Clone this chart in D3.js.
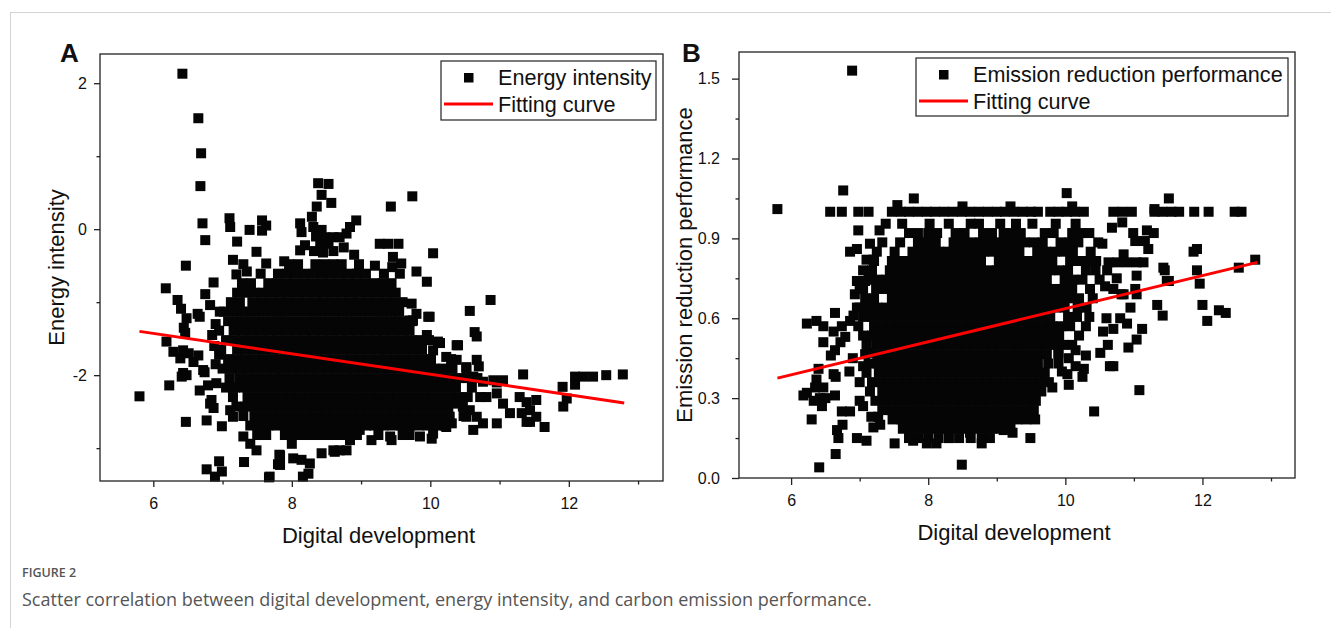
<!DOCTYPE html>
<html>
<head>
<meta charset="utf-8">
<script src="https://cdn.jsdelivr.net/npm/d3@7"></script>
<style>
  body { margin: 0; background: #fff; }
</style>
</head>
<body>
<script>
// axis ticks
const xMajor = [6, 8, 10, 12];
const xMinor = [7, 9, 11, 13];
const energyMajor = [-2, 0, 2];
const energyMinor = [-3, -1, 1];
const emissionMajor = [0, 0.3, 0.6, 0.9, 1.2, 1.5];
const emissionMinor = [0.15, 0.45, 0.75, 1.05, 1.35];

// fitted lines (endpoints)
const energyFit = [[5.8, -1.40], [12.8, -2.38]];
const emissionFit = [[5.8, 0.375], [12.8, 0.81]];

// panel A: scattered points [digital, energy]
const energyPoints = [
  [6.42,2.13],[6.65,1.52],[6.69,1.04],[6.68,0.59],[6.71,0.08],[6.75,-0.15],[6.47,-0.50],
  [7.10,0.15],[7.11,0.03],[7.21,-0.17],[7.39,-0.01],[7.57,0.12],[7.63,0.05],[7.57,-0.02],[7.49,-0.31],
  [7.89,-0.44],[8.12,0.08],[8.14,-0.04],[8.12,-0.29],[8.19,-0.22],
  [8.38,0.63],[8.53,0.62],[8.43,0.47],[8.57,0.36],[8.36,0.31],[8.29,0.17],[8.31,0.03],[8.43,-0.01],
  [8.41,-0.20],[8.48,-0.11],[8.60,-0.11],[8.53,-0.20],[8.35,-0.10],[8.32,-0.30],[8.45,-0.32],[8.60,-0.30],
  [8.93,0.12],[8.84,0.03],[8.79,-0.06],[8.69,-0.11],[8.75,-0.25],[8.90,-0.35],
  [9.27,-0.20],[9.39,-0.20],[9.54,-0.20],[9.43,0.31],[9.74,0.45],[10.04,-0.33],[9.46,-0.38],[9.58,-0.47],
  [9.80,-0.58],[9.95,-0.72],[9.56,-0.61],[6.87,-0.73],[6.75,-0.89],[7.15,-0.42],[7.30,-0.48],[7.63,-0.47],
  [7.20,-0.62],[7.35,-0.58],[9.2,-0.5],[9.45,-0.52],
  [10.57,-1.12],[9.99,-1.20],[10.64,-1.41],[10.67,-1.47],[10.40,-1.59],[10.87,-0.97],[10.70,-1.88],
  [9.73,-1.02],[9.75,-1.25],[10.11,-1.54],[9.95,-1.45],[9.80,-1.16],[9.70,-1.25],[9.97,-1.20],
  [10.14,-1.56],[10.38,-1.59],[10.67,-1.79],[10.52,-1.89],[10.38,-1.79],[10.23,-1.75],[10.04,-1.66],
  [11.34,-1.99],[11.91,-2.16],[12.09,-2.02],[12.21,-2.02],[12.35,-2.02],[12.54,-2.00],[12.78,-1.99],
  [12.09,-2.13],[11.92,-2.43],[11.97,-2.32],[11.65,-2.71],[11.44,-2.64],[11.53,-2.57],[11.05,-2.07],[10.96,-2.10],
  [10.62,-2.02],[10.76,-2.09],[10.91,-2.07],[10.96,-2.25],[10.81,-2.30],[11.05,-2.39],[11.15,-2.52],
  [11.29,-2.30],[11.39,-2.37],[11.53,-2.34],[11.44,-2.48],[11.32,-2.52],[11.39,-2.64],
  [10.67,-2.57],[10.57,-2.48],[10.52,-2.57],[10.76,-2.66],[10.96,-2.66],[10.38,-2.39],[10.28,-2.57],
  [10.62,-2.75],[10.31,-2.66],[10.23,-2.71],[10.04,-2.80],[10.02,-2.87],[9.85,-2.84],[9.70,-2.82],
  [9.42,-2.84],[9.44,-2.89],[9.15,-2.89],[8.98,-2.75],[8.84,-2.89],[8.79,-3.03],[8.62,-3.05],[8.69,-3.03],
  [6.18,-0.81],[6.35,-0.97],[6.40,-1.09],[6.48,-1.22],[6.44,-1.35],[6.46,-1.42],[6.64,-1.16],[6.67,-1.20],
  [6.82,-1.04],[6.96,-1.13],[6.19,-1.54],[6.29,-1.68],[6.39,-1.77],[6.51,-1.70],[6.58,-1.82],[6.65,-1.73],
  [6.43,-1.66],[6.43,-1.97],[6.72,-1.93],[6.74,-1.96],[6.41,-2.02],[6.48,-2.00],[6.23,-2.14],[5.80,-2.29],
  [6.67,-2.21],[6.79,-2.14],[6.91,-2.11],[6.84,-2.34],[6.82,-2.39],[6.87,-2.45],[6.47,-2.64],[6.77,-2.62],
  [6.99,-2.70],[7.11,-2.48],[7.15,-2.57],[6.90,-1.30],[6.85,-1.45],[6.88,-1.60],[6.90,-1.85],[6.95,-1.72],
  [7.31,-3.19],[6.95,-3.18],[6.77,-3.29],[6.99,-3.32],[6.89,-3.39],[7.30,-2.84],[7.49,-3.03],[7.40,-2.94],
  [7.82,-3.09],[7.80,-3.22],[7.67,-3.40],[8.00,-2.94],[8.02,-3.14],[8.14,-3.16],[8.26,-3.21],[8.24,-3.35],
  [8.16,-3.39],[8.43,-3.07],[8.60,-3.03],[7.83,-3.10],[7.83,-3.23],[7.68,-3.39]
];

// panel A: dense core, one row per level [energy, digital...]
const energyRows = [
  [-0.48, 7.96,8.09,8.34,8.47,8.6,8.72,8.97],
  [-0.61, 7.55,7.8,7.93,8.05,8.18,8.31,8.44,8.56,8.69,8.82,8.94,9.07,9.33],
  [-0.74, 7.28,7.41,7.66,7.79,7.92,8.04,8.17,8.3,8.43,8.55,8.68,8.81,8.93,9.06,9.19,9.31,9.44],
  [-0.87, 7.21,7.34,7.46,7.59,7.72,7.85,7.97,8.1,8.23,8.36,8.48,8.61,8.74,8.87,8.99,9.12,9.25,9.38,9.5],
  [-1.00, 7.12,7.25,7.43,7.56,7.69,7.82,7.94,8.07,8.2,8.33,8.45,8.58,8.71,8.84,8.96,9.09,9.22,9.35,9.47,9.6],
  [-1.13, 7.02,7.15,7.28,7.4,7.53,7.66,7.79,7.91,8.04,8.17,8.3,8.42,8.55,8.68,8.81,8.93,9.06,9.19,9.32,9.44,9.55],
  [-1.26, 7.08,7.21,7.33,7.46,7.59,7.72,7.84,7.97,8.1,8.23,8.35,8.48,8.61,8.74,8.86,8.99,9.12,9.25,9.37,9.5,9.63,9.74],
  [-1.39, 6.95,7.16,7.28,7.41,7.54,7.67,7.79,7.92,8.05,8.18,8.3,8.43,8.56,8.69,8.81,8.94,9.07,9.2,9.32,9.45,9.58,9.7],
  [-1.52, 7.05,7.18,7.3,7.43,7.56,7.69,7.81,7.94,8.07,8.2,8.32,8.45,8.58,8.71,8.83,8.96,9.09,9.22,9.34,9.47,9.6,9.73,9.86,9.98],
  [-1.65, 6.98,7.21,7.33,7.46,7.59,7.72,7.84,7.97,8.1,8.23,8.35,8.48,8.61,8.74,8.86,8.99,9.12,9.25,9.37,9.5,9.63,9.76,9.88],
  [-1.78, 7.08,7.21,7.33,7.46,7.59,7.72,7.84,7.97,8.1,8.23,8.35,8.48,8.61,8.74,8.86,8.99,9.12,9.25,9.37,9.5,9.63,9.76,9.88,10.01,10.3],
  [-1.91, 7.0,7.13,7.26,7.38,7.51,7.64,7.77,7.89,8.02,8.15,8.28,8.4,8.53,8.66,8.79,8.91,9.04,9.17,9.3,9.42,9.55,9.68,9.81,9.93,10.06,10.19,10.32,10.52],
  [-2.04, 7.1,7.24,7.36,7.49,7.62,7.75,7.87,8.0,8.13,8.26,8.38,8.51,8.64,8.77,8.89,9.02,9.15,9.28,9.4,9.53,9.66,9.79,9.91,10.04,10.17,10.3,10.42,10.55,10.68],
  [-2.17, 7.05,7.18,7.31,7.43,7.56,7.69,7.82,7.94,8.07,8.2,8.33,8.45,8.58,8.71,8.84,8.96,9.09,9.22,9.35,9.47,9.6,9.73,9.86,9.98,10.11,10.24,10.37,10.6],
  [-2.30, 7.15,7.36,7.48,7.61,7.74,7.87,7.99,8.12,8.25,8.38,8.5,8.63,8.76,8.89,9.01,9.14,9.27,9.4,9.52,9.65,9.78,9.91,10.03,10.16,10.29,10.42,10.54,10.72],
  [-2.43, 7.2,7.33,7.46,7.58,7.71,7.84,7.97,8.09,8.22,8.35,8.48,8.6,8.73,8.86,8.99,9.11,9.24,9.37,9.5,9.62,9.75,9.88,10.01,10.13,10.26,10.47],
  [-2.56, 7.3,7.46,7.58,7.71,7.84,7.97,8.09,8.22,8.35,8.48,8.6,8.73,8.86,8.99,9.11,9.24,9.37,9.5,9.62,9.75,9.88,10.01,10.13,10.26,10.48],
  [-2.69, 7.4,7.54,7.66,7.79,7.92,8.05,8.17,8.3,8.43,8.56,8.68,8.81,8.94,9.07,9.19,9.32,9.45,9.58,9.7,9.83,9.96,10.09,10.21],
  [-2.82, 7.5,7.63,7.9,8.03,8.16,8.29,8.42,8.55,8.68,8.81,8.94,9.25,9.6]
];

// panel B: scattered points [digital, emission]
const emissionPoints = [
  [5.80,1.01],[6.89,1.53],[6.76,1.08],[7.79,1.05],[10.02,1.07],[11.51,1.05],[7.55,1.025],[8.5,1.02],
  [9.2,1.02],[10.1,1.02],[11.3,1.01],[6.98,0.93],[6.86,0.85],[6.96,0.86],[7.29,0.93],[7.20,0.82],
  [10.68,0.94],[10.83,0.96],[10.99,0.92],[11.19,0.93],[11.29,0.92],[11.02,0.89],[11.16,0.89],[11.21,0.86],
  [11.87,0.85],[11.92,0.86],[10.54,0.88],[10.85,0.84],[10.63,0.81],[10.76,0.81],[10.9,0.81],[11.04,0.81],
  [11.14,0.81],[11.45,0.78],[11.48,0.74],[11.92,0.78],[11.96,0.73],[12.53,0.79],[12.77,0.82],[11.43,0.79],
  [11.51,0.74],[10.61,0.78],[10.75,0.75],[11.04,0.76],[11.02,0.71],[10.58,0.72],[10.70,0.71],[10.85,0.69],
  [11.04,0.69],[10.82,0.69],[10.95,0.64],[11.34,0.65],[11.42,0.61],[12.00,0.65],[12.07,0.59],[12.24,0.63],
  [12.34,0.62],[10.8,0.60],[10.9,0.58],[10.6,0.60],[10.55,0.55],[10.7,0.56],[10.62,0.50],[11.12,0.56],
  [11.04,0.52],[10.92,0.49],[10.51,0.47],[10.65,0.42],[10.70,0.42],[11.08,0.33],[10.42,0.25],
  [10.05,0.35],[10.25,0.38],[10.27,0.41],[10.03,0.39],[9.81,0.34],[9.76,0.36],[9.9,0.43],
  [9.9,0.47],[10.05,0.45],[10.15,0.48],[10.3,0.46],[9.95,0.40],[10.15,0.42],
  [9.49,0.23],[9.56,0.22],[9.10,0.18],[9.23,0.17],[9.49,0.15],
  [6.23,0.58],[6.37,0.59],[6.47,0.57],[6.64,0.62],[6.47,0.51],[6.62,0.55],[6.74,0.57],[6.86,0.59],
  [6.79,0.53],[6.64,0.48],[6.72,0.51],[6.58,0.46],[6.91,0.61],[6.96,0.64],[6.93,0.69],[7.00,0.71],
  [7.08,0.74],[6.96,0.74],[6.40,0.41],[6.65,0.38],[6.37,0.37],[6.47,0.34],[6.35,0.34],[6.23,0.32],
  [6.18,0.31],[6.42,0.30],[6.45,0.27],[6.33,0.29],[6.64,0.31],[6.30,0.22],[6.74,0.25],[6.86,0.25],
  [6.75,0.20],[6.67,0.18],[6.69,0.15],[6.65,0.09],[6.41,0.04],[6.62,0.39],[6.50,0.30],
  [6.96,0.15],[7.10,0.14],[7.20,0.19],[7.30,0.20],[7.51,0.13],[7.78,0.14],[7.98,0.13],[8.12,0.13],
  [8.30,0.15],[8.49,0.05],[8.61,0.17],[8.78,0.13],[7.00,0.29],[7.05,0.27],[7.00,0.36],[7.05,0.42],
  [7.13,0.47],[7.17,0.23],[7.27,0.23],[6.90,0.45],[6.85,0.40],[7.1,0.82],[7.05,0.78],[7.15,0.88]
];

// panel B: dense core, one row per level [emission, digital...]
const emissionRows = [
  [1.0, 6.57,6.74,6.98,7.13,7.47,7.6,7.72,7.85,7.98,8.1,8.23,8.36,8.49,8.61,8.74,8.87,9.0,9.12,9.25,9.38,9.5,9.6,9.78,9.9,10.02,10.14,10.27,10.7,10.83,10.97,11.3,11.42,11.55,11.66,11.88,12.09,12.47,12.57],
  [0.955, 7.38,7.62,8.02,8.3,8.62,8.74,9.05,9.28,9.52,9.86,10.15],
  [0.92, 7.72,7.85,8.0,8.13,8.4,8.53,8.8,8.93,9.1,9.22,9.35,9.7,9.83,10.1,10.23,10.35],
  [0.885, 7.33,7.59,7.85,7.98,8.11,8.37,8.5,8.63,8.76,8.89,9.02,9.15,9.28,9.41,9.54,9.67,9.93,10.06,10.19,10.48],
  [0.85, 7.25,7.51,7.77,7.9,8.03,8.16,8.29,8.42,8.55,8.68,8.81,8.94,9.07,9.2,9.33,9.59,9.72,9.85,9.98,10.11,10.37],
  [0.815, 7.21,7.47,7.6,7.73,7.86,7.99,8.12,8.25,8.38,8.51,8.64,8.77,9.03,9.16,9.29,9.42,9.55,9.68,9.81,10.07,10.2,10.33,10.45],
  [0.78, 7.18,7.44,7.57,7.7,7.83,7.96,8.09,8.22,8.35,8.48,8.61,8.74,8.87,9.0,9.13,9.26,9.39,9.52,9.65,9.78,9.91,10.04,10.3,10.44],
  [0.745, 7.13,7.26,7.39,7.52,7.65,7.78,7.91,8.04,8.17,8.3,8.43,8.56,8.69,8.82,8.95,9.08,9.21,9.34,9.47,9.6,9.73,9.99,10.12,10.25,10.5],
  [0.71, 7.05,7.24,7.37,7.5,7.63,7.76,7.89,8.02,8.15,8.28,8.41,8.54,8.67,8.8,8.93,9.06,9.19,9.32,9.45,9.58,9.71,9.84,9.97,10.1,10.36],
  [0.675, 7.08,7.21,7.47,7.6,7.73,7.86,7.99,8.12,8.25,8.38,8.51,8.64,8.77,8.9,9.03,9.16,9.29,9.42,9.55,9.68,9.81,9.94,10.07,10.2,10.4],
  [0.64, 7.0,7.13,7.26,7.39,7.52,7.65,7.78,7.91,8.04,8.17,8.3,8.43,8.56,8.69,8.82,8.95,9.08,9.21,9.34,9.47,9.6,9.73,9.86,9.99,10.18,10.31],
  [0.605, 7.05,7.18,7.31,7.44,7.57,7.7,7.83,7.96,8.09,8.22,8.35,8.48,8.61,8.74,8.87,9.0,9.13,9.26,9.39,9.52,9.65,9.78,10.04,10.17,10.35],
  [0.57, 6.98,7.21,7.34,7.47,7.6,7.73,7.86,7.99,8.12,8.25,8.38,8.51,8.64,8.77,8.9,9.03,9.16,9.29,9.42,9.55,9.68,9.81,9.94,10.07,10.3],
  [0.535, 7.05,7.18,7.31,7.44,7.57,7.7,7.83,7.96,8.09,8.22,8.35,8.48,8.61,8.74,8.87,9.0,9.13,9.26,9.39,9.52,9.65,9.78,9.91,10.2],
  [0.50, 7.1,7.24,7.37,7.5,7.63,7.76,7.89,8.02,8.15,8.28,8.41,8.54,8.67,8.8,8.93,9.06,9.19,9.32,9.45,9.58,9.71,9.84,9.97,10.1],
  [0.465, 7.08,7.26,7.39,7.52,7.65,7.78,7.91,8.04,8.17,8.3,8.43,8.56,8.69,8.82,8.95,9.08,9.21,9.34,9.47,9.6,9.73,9.9],
  [0.43, 7.13,7.26,7.39,7.52,7.65,7.78,7.91,8.04,8.17,8.3,8.43,8.56,8.69,8.82,8.95,9.08,9.21,9.34,9.47,9.6,9.75],
  [0.395, 7.1,7.28,7.41,7.54,7.67,7.8,7.93,8.06,8.19,8.32,8.45,8.58,8.71,8.84,8.97,9.1,9.23,9.36,9.49,9.62,9.7],
  [0.36, 7.18,7.31,7.44,7.57,7.7,7.83,7.96,8.09,8.22,8.35,8.48,8.61,8.74,8.87,9.0,9.13,9.26,9.39,9.52,9.65],
  [0.325, 7.15,7.33,7.46,7.59,7.72,7.85,7.98,8.11,8.24,8.37,8.5,8.63,8.76,8.89,9.02,9.15,9.28,9.41,9.54,9.65],
  [0.29, 7.23,7.36,7.49,7.62,7.75,7.88,8.01,8.14,8.27,8.4,8.53,8.66,8.79,8.92,9.05,9.18,9.31,9.44,9.57],
  [0.255, 7.33,7.46,7.59,7.72,7.85,7.98,8.11,8.24,8.37,8.5,8.63,8.76,8.89,9.02,9.15,9.28,9.41,9.54],
  [0.22, 7.48,7.61,7.74,7.87,8.0,8.13,8.26,8.39,8.52,8.65,8.78,8.91,9.04,9.17,9.3,9.43],
  [0.185, 7.63,7.76,7.89,8.02,8.15,8.28,8.41,8.54,8.67,8.8,8.93,9.06,9.2],
  [0.15, 7.72,7.86,8.0,8.15,8.3,8.45,8.62,8.78,8.9]
];

const width = 1331, height = 628;
const font = "Liberation Sans, Arial, sans-serif";
const svg = d3.select("body").append("svg")
  .attr("width", width)
  .attr("height", height)
  .attr("font-family", font);

// page frame lines
svg.append("line").attr("x1", 10).attr("x2", width).attr("y1", 12.5).attr("y2", 12.5)
  .attr("stroke", "#d4d4d4");
svg.append("line").attr("x1", 10.5).attr("x2", 10.5).attr("y1", 12).attr("y2", height)
  .attr("stroke", "#d4d4d4");

function drawPanel(p) {
  const g = svg.append("g");
  const x = d3.scaleLinear().domain(p.xDomain).range([p.left, p.right]);
  const y = d3.scaleLinear().domain(p.yDomain).range([p.bottom, p.top]);

  const pts = p.points.concat(p.rows.flatMap(([yv, ...xs]) => xs.map(xv => [xv, yv])));
  const s = 10;
  g.append("g").selectAll("rect")
    .data(pts)
    .join("rect")
    .attr("x", d => x(d[0]) - s/2)
    .attr("y", d => y(d[1]) - s/2)
    .attr("width", s)
    .attr("height", s)
    .attr("fill", "#050505");

  g.append("path")
    .datum(p.fit)
    .attr("d", d3.line(d => x(d[0]), d => y(d[1])))
    .attr("stroke", "#ff0000")
    .attr("stroke-width", 3)
    .attr("fill", "none");

  g.append("rect")
    .attr("x", p.left).attr("y", p.top)
    .attr("width", p.right - p.left).attr("height", p.bottom - p.top)
    .attr("fill", "none")
    .attr("stroke", "#222")
    .attr("stroke-width", 1.3);

  const styleAxis = a => {
    a.select(".domain").remove();
    a.selectAll("line").attr("stroke", "#222").attr("stroke-width", 1.3);
    a.selectAll("text").attr("font-size", 16).attr("fill", "#111").attr("font-family", font);
  };

  g.append("g").attr("transform", `translate(0,${p.bottom})`)
    .call(d3.axisBottom(x).tickValues(xMajor).tickSize(p.tick).tickPadding(p.xPad).tickSizeOuter(0)
      .tickFormat(d => String(d)))
    .call(styleAxis);
  g.append("g").attr("transform", `translate(0,${p.bottom})`)
    .call(d3.axisBottom(x).tickValues(xMinor).tickSize(3.5).tickFormat(""))
    .call(styleAxis);
  g.append("g").attr("transform", `translate(${p.left},0)`)
    .call(d3.axisLeft(y).tickValues(p.yMajor).tickSize(p.tick).tickPadding(p.yPad).tickSizeOuter(0)
      .tickFormat(p.yFormat))
    .call(styleAxis);
  g.append("g").attr("transform", `translate(${p.left},0)`)
    .call(d3.axisLeft(y).tickValues(p.yMinor).tickSize(3.5).tickFormat(""))
    .call(styleAxis);

  // titles
  g.append("text")
    .attr("x", (p.left + p.right) / 2 - 3).attr("y", p.xTitleY)
    .attr("text-anchor", "middle").attr("font-size", 22).attr("fill", "#111")
    .text("Digital development");
  g.append("text")
    .attr("transform", `translate(${p.yTitleX},${(p.top + p.bottom) / 2}) rotate(-90)`)
    .attr("text-anchor", "middle").attr("font-size", 22).attr("fill", "#111")
    .text(p.yTitle);
  g.append("text")
    .attr("x", p.letterX).attr("y", 62)
    .attr("font-size", 26).attr("font-weight", "bold").attr("fill", "#111")
    .text(p.letter);

  // legend
  const L = p.legend;
  g.append("rect")
    .attr("x", L.x).attr("y", L.y).attr("width", L.w).attr("height", L.h)
    .attr("fill", "#fff").attr("stroke", "#222").attr("stroke-width", 1.2);
  g.append("rect")
    .attr("x", L.x + 23).attr("y", L.y + 12).attr("width", 9.5).attr("height", 9.5)
    .attr("fill", "#050505");
  g.append("line")
    .attr("x1", L.x + 3).attr("x2", L.x + 52)
    .attr("y1", L.y + 43).attr("y2", L.y + 43)
    .attr("stroke", "#ff0000").attr("stroke-width", 3);
  g.append("text").attr("x", L.x + 57).attr("y", L.y + 24)
    .attr("font-size", 21.6).attr("fill", "#111").text(L.label);
  g.append("text").attr("x", L.x + 57).attr("y", L.y + 51)
    .attr("font-size", 21.6).attr("fill", "#111").text("Fitting curve");
}

drawPanel({
  left: 100, right: 663, top: 54, bottom: 481,
  xDomain: [5.23, 13.36], yDomain: [-3.45, 2.4],
  yMajor: energyMajor, yMinor: energyMinor, yFormat: d => String(d),
  points: energyPoints, rows: energyRows, fit: energyFit,
  tick: 6, xPad: 11, yPad: 7, xTitleY: 543, yTitleX: 64, yTitle: "Energy intensity",
  letter: "A", letterX: 60,
  legend: {x: 441, y: 61, w: 215, h: 59, label: "Energy intensity"}
});

drawPanel({
  left: 739, right: 1295, top: 52, bottom: 478,
  xDomain: [5.24, 13.35], yDomain: [0, 1.6],
  yMajor: emissionMajor, yMinor: emissionMinor, yFormat: d3.format(".1f"),
  points: emissionPoints, rows: emissionRows, fit: emissionFit,
  tick: 7, xPad: 10, yPad: 12, xTitleY: 540, yTitleX: 692, yTitle: "Emission reduction performance",
  letter: "B", letterX: 682,
  legend: {x: 916, y: 58, w: 372, h: 58, label: "Emission reduction performance"}
});

// caption
svg.append("text")
  .attr("x", 22).attr("y", 577)
  .attr("font-family", "Open Sans, sans-serif").attr("font-size", 12.5)
  .attr("fill", "#555").attr("font-weight", 600)
  .text("FIGURE 2");
svg.append("text")
  .attr("x", 22).attr("y", 606)
  .attr("font-family", "Open Sans, sans-serif").attr("font-size", 18)
  .attr("fill", "#555")
  .text("Scatter correlation between digital development, energy intensity, and carbon emission performance.");
</script>
</body>
</html>
